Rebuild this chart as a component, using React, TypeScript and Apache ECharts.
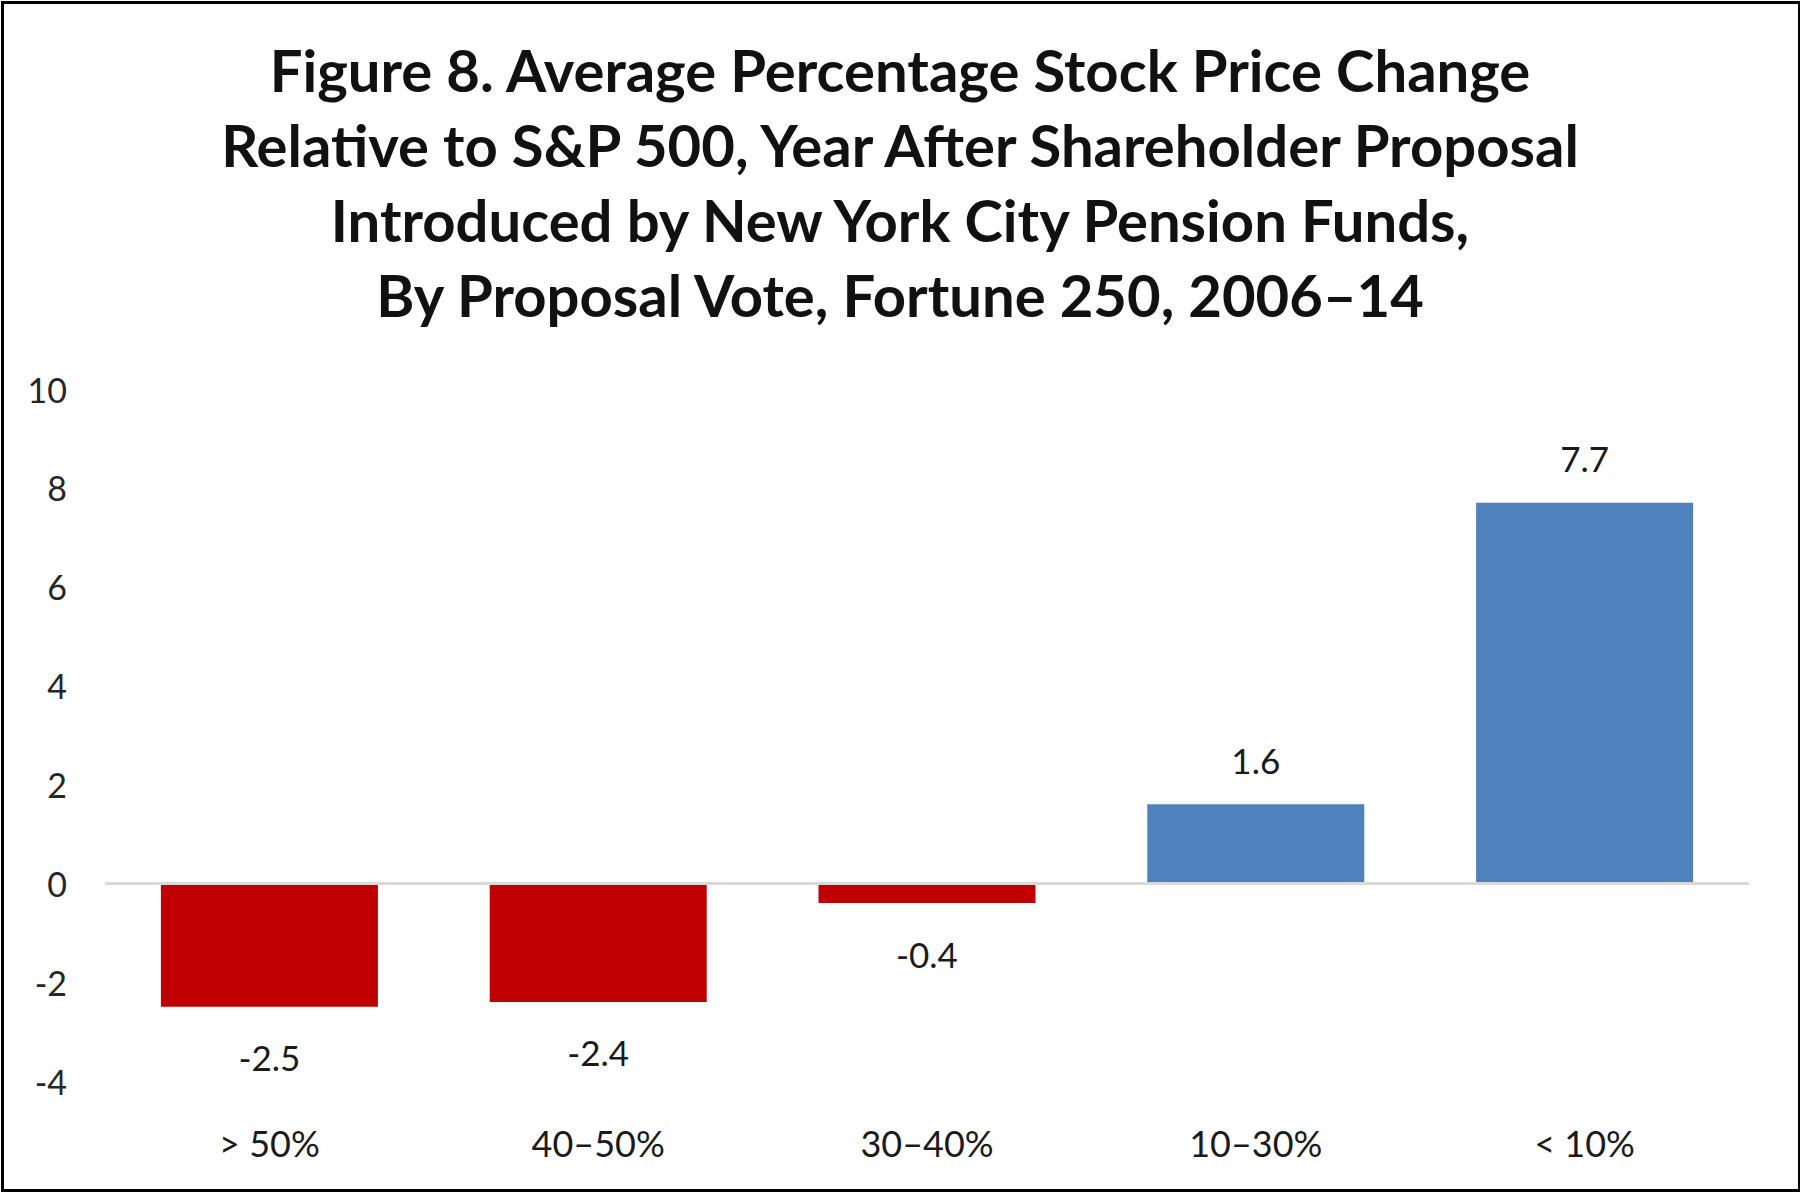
import React, { useEffect, useRef } from "react";
import * as echarts from "echarts";

const categories = ["> 50%", "40–50%", "30–40%", "10–30%", "< 10%"];
const values = [-2.5, -2.4, -0.4, 1.6, 7.7];
const titleLines = [
  "Figure 8. Average Percentage Stock Price Change",
  "Relative to S&P 500, Year After Shareholder Proposal",
  "Introduced by New York City Pension Funds,",
  "By Proposal Vote, Fortune 250, 2006–14",
];
const yMin = -4;
const yMax = 10;
const yInterval = 2;

const RED = "#C00000";
const BLUE = "#4F81BD";
const FONT = "Lato, 'Open Sans', sans-serif";

export default function App() {
  const ref = useRef<HTMLDivElement>(null);
  useEffect(() => {
    document.body.style.margin = "0";
    if (!ref.current) return;
    const chart = echarts.init(ref.current, null, { renderer: "svg" });
    const data = values.map((v) => ({
      value: v,
      itemStyle: { color: v < 0 ? RED : BLUE },
      label: {
        show: true,
        position: v < 0 ? "bottom" : "top",
        distance: v < 0 ? 33 : 27,
        formatter: (p: any) => p.value.toFixed(1),
        fontFamily: FONT,
        fontSize: 35,
        color: "#1a1a1a",
      },
    }));
    chart.setOption({
      animation: false,
      backgroundColor: "#ffffff",
      title: {
        text: titleLines.join("\n"),
        left: "center",
        top: 27,
        textStyle: {
          fontFamily: FONT,
          fontWeight: "bold",
          fontSize: 58,
          lineHeight: 75,
          color: "#111111",
        },
      },
      graphic: [
        {
          type: "rect",
          left: 0,
          top: 0,
          shape: { x: 1.5, y: 1.5, width: 1797, height: 1188 },
          style: { fill: "none", stroke: "#000", lineWidth: 3 },
          silent: true,
        },
      ],
      grid: { left: 105, right: 51, top: 389, bottom: 113, containLabel: false },
      xAxis: {
        type: "category",
        data: categories,
        axisLine: { show: false },
        axisTick: { show: false },
        axisLabel: {
          margin: 44,
          fontFamily: FONT,
          fontSize: 36,
          color: "#1a1a1a",
        },
      },
      yAxis: {
        type: "value",
        min: yMin,
        max: yMax,
        interval: yInterval,
        axisLine: { show: false },
        axisTick: { show: false },
        splitLine: { show: false },
        axisLabel: {
          margin: 38,
          fontFamily: FONT,
          fontSize: 34,
          color: "#262626",
        },
      },
      series: [
        {
          type: "bar",
          data,
          barCategoryGap: "34%",
          markLine: {
            silent: true,
            symbol: "none",
            label: { show: false },
            lineStyle: { color: "#d9d9d9", width: 3, type: "solid" },
            data: [{ yAxis: 0 }],
          },
        },
      ],
    });
    return () => chart.dispose();
  }, []);
  return <div ref={ref} style={{ width: 1800, height: 1194 }} />;
}
